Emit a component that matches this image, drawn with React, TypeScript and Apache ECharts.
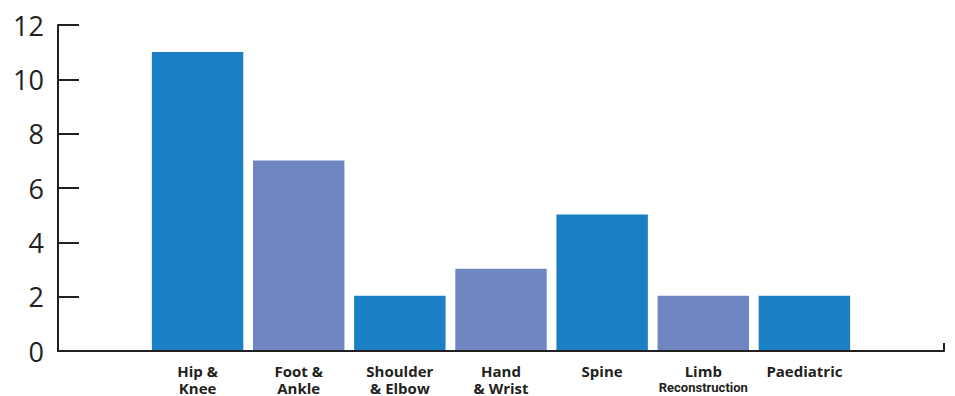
import React, { useEffect, useRef } from "react";
import * as echarts from "echarts";

const categories = [
  "Hip &\nKnee",
  "Foot &\nAnkle",
  "Shoulder\n& Elbow",
  "Hand\n& Wrist",
  "Spine",
  "Limb\n{s|Reconstruction}",
  "Paediatric",
];
const values = [11, 7, 2, 3, 5, 2, 2];
const barColors = ["#1a7fc4", "#6f86c3", "#1a7fc4", "#6f86c3", "#1a7fc4", "#6f86c3", "#1a7fc4"];
const yMin = 0;
const yMax = 12;
const yStep = 2;

const FONT = "'Open Sans', 'DejaVu Sans', sans-serif";
const INK = "#231f20";

export default function App() {
  const ref = useRef<HTMLDivElement>(null);

  useEffect(() => {
    document.body.style.margin = "0";
    if (!ref.current) return;
    const chart = echarts.init(ref.current, null, { renderer: "svg" });
    chart.setOption({
      animation: false,
      grid: [
        // frame: y axis with ticks and the long baseline
        { left: 58, right: 11, top: 25, bottom: 45 },
        // bars
        { left: 147, right: 100, top: 25, bottom: 45 },
      ],
      xAxis: [
        {
          type: "value",
          gridIndex: 0,
          min: 0,
          max: 1,
          interval: 1,
          axisLine: { show: true, lineStyle: { color: INK, width: 2 } },
          axisTick: { show: true, inside: true, length: 8, lineStyle: { color: INK, width: 2 } },
          axisLabel: { show: false },
          splitLine: { show: false },
        },
        {
          type: "category",
          gridIndex: 1,
          data: categories,
          axisLine: { show: false },
          axisTick: { show: false },
          axisLabel: {
            interval: 0,
            margin: 12,
            color: INK,
            fontFamily: FONT,
            fontWeight: "bold",
            fontSize: 15,
            lineHeight: 17,
            rich: {
              s: {
                fontFamily: "'Liberation Sans Narrow', 'Roboto', sans-serif",
                fontWeight: "bold",
                fontSize: 13,
                lineHeight: 17,
                color: INK,
              },
            },
          },
        },
      ],
      yAxis: [
        {
          type: "value",
          gridIndex: 0,
          min: yMin,
          max: yMax,
          interval: yStep,
          axisLine: { show: true, lineStyle: { color: INK, width: 2 } },
          axisTick: { show: true, inside: true, length: 21, lineStyle: { color: INK, width: 2 } },
          axisLabel: { margin: 14, color: INK, fontFamily: FONT, fontSize: 27 },
          splitLine: { show: false },
        },
        {
          type: "value",
          gridIndex: 1,
          min: yMin,
          max: yMax,
          interval: yStep,
          show: false,
        },
      ],
      series: [
        {
          type: "bar",
          xAxisIndex: 1,
          yAxisIndex: 1,
          barCategoryGap: "9.6%",
          data: values.map((v, i) => ({ value: v, itemStyle: { color: barColors[i] } })),
        },
      ],
    });
    return () => chart.dispose();
  }, []);

  return <div ref={ref} style={{ width: 955, height: 396 }} />;
}
